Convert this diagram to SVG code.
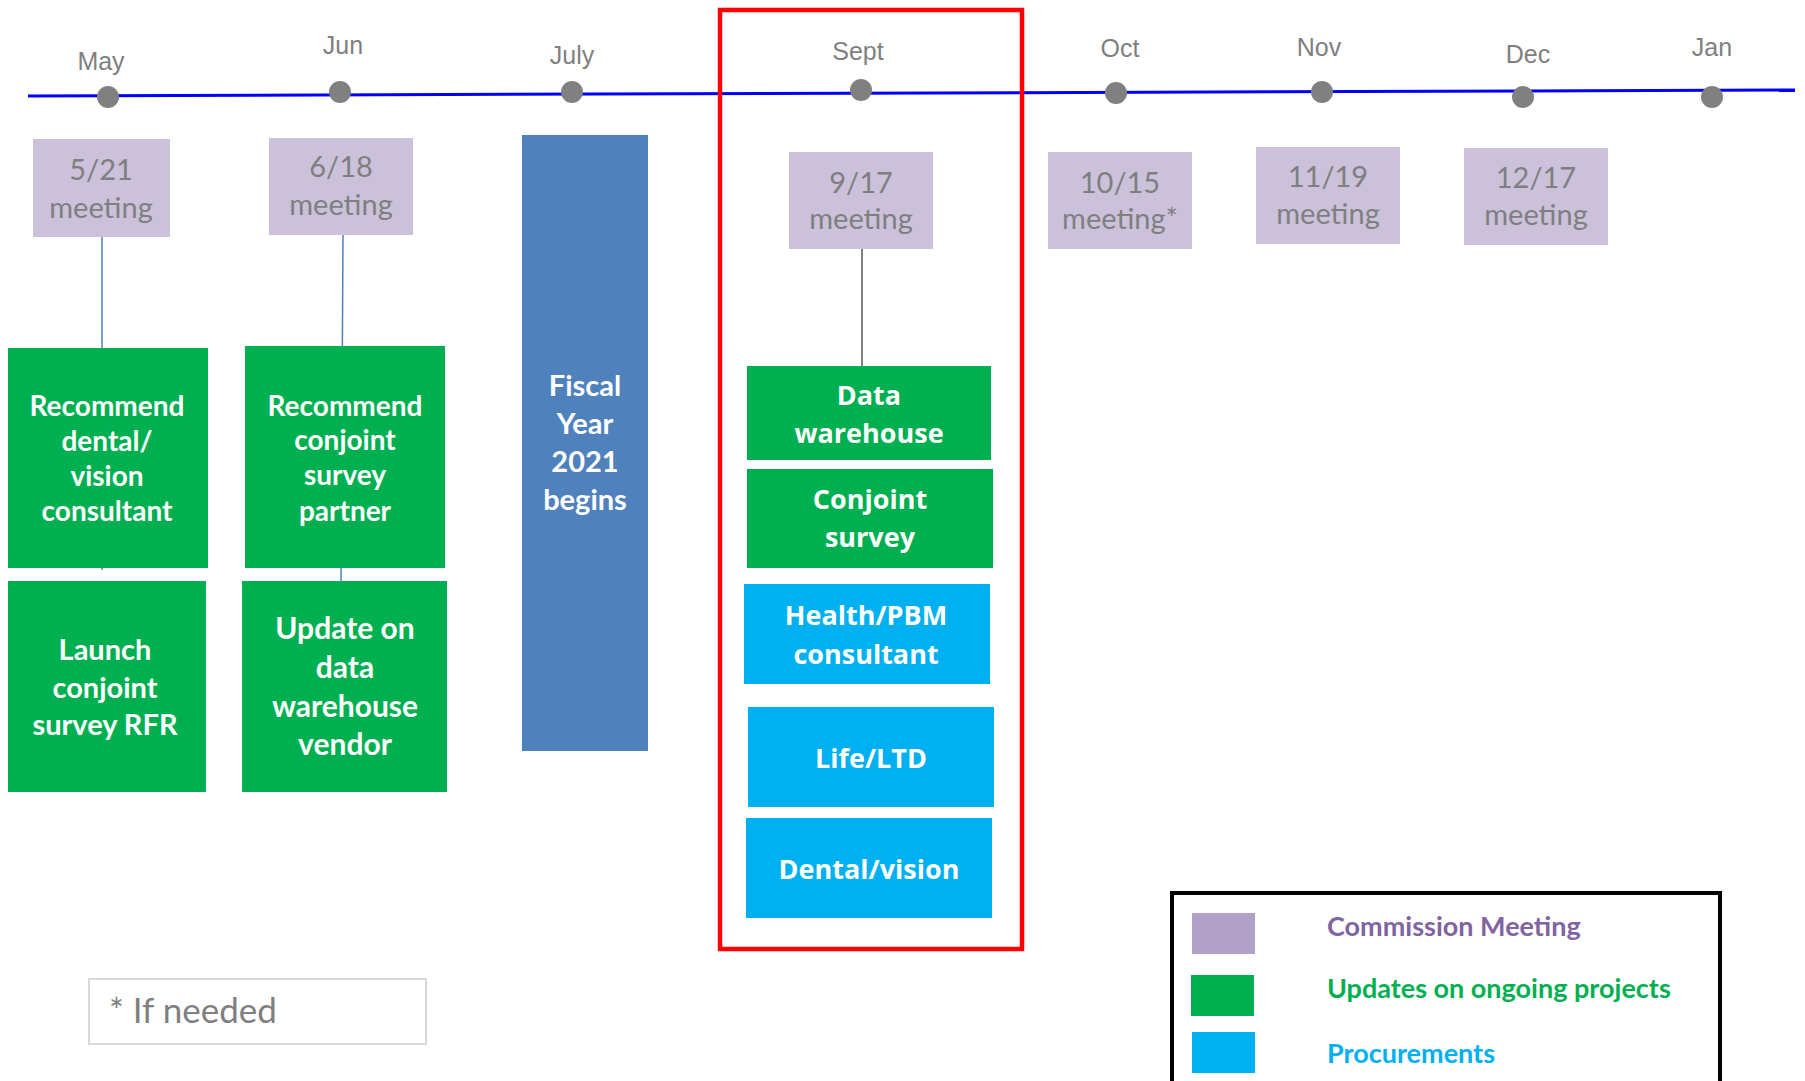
<svg xmlns="http://www.w3.org/2000/svg" width="1805" height="1081" viewBox="0 0 1805 1081">
<style>
.month{font-family:"Liberation Sans",Arial,sans-serif;font-size:25px;fill:#7F7F7F;text-anchor:middle}
.meet rect{fill:#CCC1DA}
.meet text{font-family:Lato,"Open Sans",sans-serif;font-size:29px;fill:#7F7F7F;text-anchor:middle}
.grn rect{fill:#00B050}
.box text{font-family:Lato,"Open Sans",sans-serif;font-weight:bold;fill:#FFFFFF;text-anchor:middle}
.sep text{font-family:"Open Sans","Noto Sans",sans-serif;font-weight:bold;font-size:27px;fill:#FFFFFF;text-anchor:middle}
.proc rect{fill:#00B0F0}
.dot{fill:#808080}
.leg{font-family:Lato,"Open Sans",sans-serif;font-weight:bold;font-size:27px}
</style>
<rect width="1805" height="1081" fill="#FFFFFF"/>

<g id="timeline">
<line x1="28" y1="96" x2="1795" y2="90" stroke="#0000FF" stroke-width="3"/>
<circle class="dot" cx="108" cy="97" r="11"/>
<circle class="dot" cx="340" cy="92" r="11"/>
<circle class="dot" cx="572" cy="92" r="11"/>
<circle class="dot" cx="861" cy="90" r="11"/>
<circle class="dot" cx="1116" cy="93" r="11"/>
<circle class="dot" cx="1322" cy="92" r="11"/>
<circle class="dot" cx="1523" cy="97" r="11"/>
<circle class="dot" cx="1712" cy="97" r="11"/>
<text class="month" x="101" y="70">May</text>
<text class="month" x="343" y="54">Jun</text>
<text class="month" x="572" y="64">July</text>
<text class="month" x="858" y="60">Sept</text>
<text class="month" x="1120" y="57">Oct</text>
<text class="month" x="1319" y="56">Nov</text>
<text class="month" x="1528" y="63">Dec</text>
<text class="month" x="1712" y="56">Jan</text>
</g>

<g id="highlight">
<rect x="720" y="10" width="302" height="939" fill="none" stroke="#FF0000" stroke-width="4.5"/>
</g>

<g id="connectors">
<line x1="102" y1="237" x2="102" y2="570" stroke="#4F81BD" stroke-width="1.5"/>
<line x1="343" y1="235" x2="341" y2="581" stroke="#4F81BD" stroke-width="1.5"/>
<line x1="862" y1="249" x2="862" y2="366" stroke="#808080" stroke-width="2"/>
</g>

<g id="m521" class="meet"><rect x="33" y="139" width="137" height="98"/><text x="101" y="180">5/21</text><text x="101" y="218">meeting</text></g>
<g id="m618" class="meet"><rect x="269" y="138" width="144" height="97"/><text x="341" y="177">6/18</text><text x="341" y="215">meeting</text></g>
<g id="m917" class="meet"><rect x="789" y="152" width="144" height="97"/><text x="861" y="193">9/17</text><text x="861" y="229">meeting</text></g>
<g id="m1015" class="meet"><rect x="1048" y="152" width="144" height="97"/><text x="1120" y="193">10/15</text><text x="1120" y="229">meeting*</text></g>
<g id="m1119" class="meet"><rect x="1256" y="147" width="144" height="97"/><text x="1328" y="187">11/19</text><text x="1328" y="224">meeting</text></g>
<g id="m1217" class="meet"><rect x="1464" y="148" width="144" height="97"/><text x="1536" y="188">12/17</text><text x="1536" y="225">meeting</text></g>

<g id="rec-dental" class="box grn"><rect x="8" y="348" width="200" height="220"/>
<text x="107" y="416" font-size="28">Recommend</text><text x="107" y="451" font-size="28">dental/</text><text x="107" y="486" font-size="28">vision</text><text x="107" y="521" font-size="28">consultant</text></g>
<g id="rec-conjoint" class="box grn"><rect x="245" y="346" width="200" height="222"/>
<text x="345" y="416" font-size="28">Recommend</text><text x="345" y="450" font-size="28">conjoint</text><text x="345" y="485" font-size="28">survey</text><text x="345" y="521" font-size="28">partner</text></g>
<g id="launch" class="box grn"><rect x="8" y="581" width="198" height="211"/>
<text x="105" y="660" font-size="29">Launch</text><text x="105" y="698" font-size="29">conjoint</text><text x="105" y="735" font-size="29">survey RFR</text></g>
<g id="update-dw" class="box grn"><rect x="242" y="581" width="205" height="211"/>
<text x="345" y="639" font-size="30">Update on</text><text x="345" y="678" font-size="30">data</text><text x="345" y="717" font-size="30">warehouse</text><text x="345" y="755" font-size="30">vendor</text></g>
<g id="fiscal" class="box"><rect x="522" y="135" width="126" height="616" fill="#4F81BD"/>
<text x="585" y="396" font-size="29">Fiscal</text><text x="585" y="434" font-size="29">Year</text><text x="585" y="472" font-size="29">2021</text><text x="585" y="510" font-size="29">begins</text></g>

<g id="data-warehouse" class="sep grn"><rect x="747" y="366" width="244" height="94"/><text x="869" y="405">Data</text><text x="869" y="443">warehouse</text></g>
<g id="conjoint-survey" class="sep grn"><rect x="747" y="469" width="246" height="99"/><text x="870" y="509">Conjoint</text><text x="870" y="547">survey</text></g>
<g id="health-pbm" class="sep proc"><rect x="744" y="584" width="246" height="100"/><text x="866" y="625">Health/PBM</text><text x="866" y="664">consultant</text></g>
<g id="life-ltd" class="sep proc"><rect x="748" y="707" width="246" height="100"/><text x="871" y="768">Life/LTD</text></g>
<g id="dental-vision" class="sep proc"><rect x="746" y="818" width="246" height="100"/><text x="869" y="879">Dental/vision</text></g>

<g id="note">
<rect x="89" y="979" width="337" height="65" fill="none" stroke="#D9D9D9" stroke-width="2"/>
<text x="109" y="1023" font-family="Lato,'Open Sans',sans-serif" font-size="35" fill="#7F7F7F">* If needed</text>
</g>

<g id="legend">
<rect x="1172" y="893" width="548" height="200" fill="none" stroke="#000000" stroke-width="4"/>
<rect x="1192" y="913" width="63" height="41" fill="#B1A0C7"/>
<rect x="1191" y="975" width="63" height="41" fill="#00B050"/>
<rect x="1192" y="1032" width="63" height="41" fill="#00B0F0"/>
<text class="leg" x="1327" y="936" fill="#8064A2">Commission Meeting</text>
<text class="leg" x="1327" y="998" fill="#00B050">Updates on ongoing projects</text>
<text class="leg" x="1327" y="1063" fill="#00B0F0">Procurements</text>
</g>
</svg>
